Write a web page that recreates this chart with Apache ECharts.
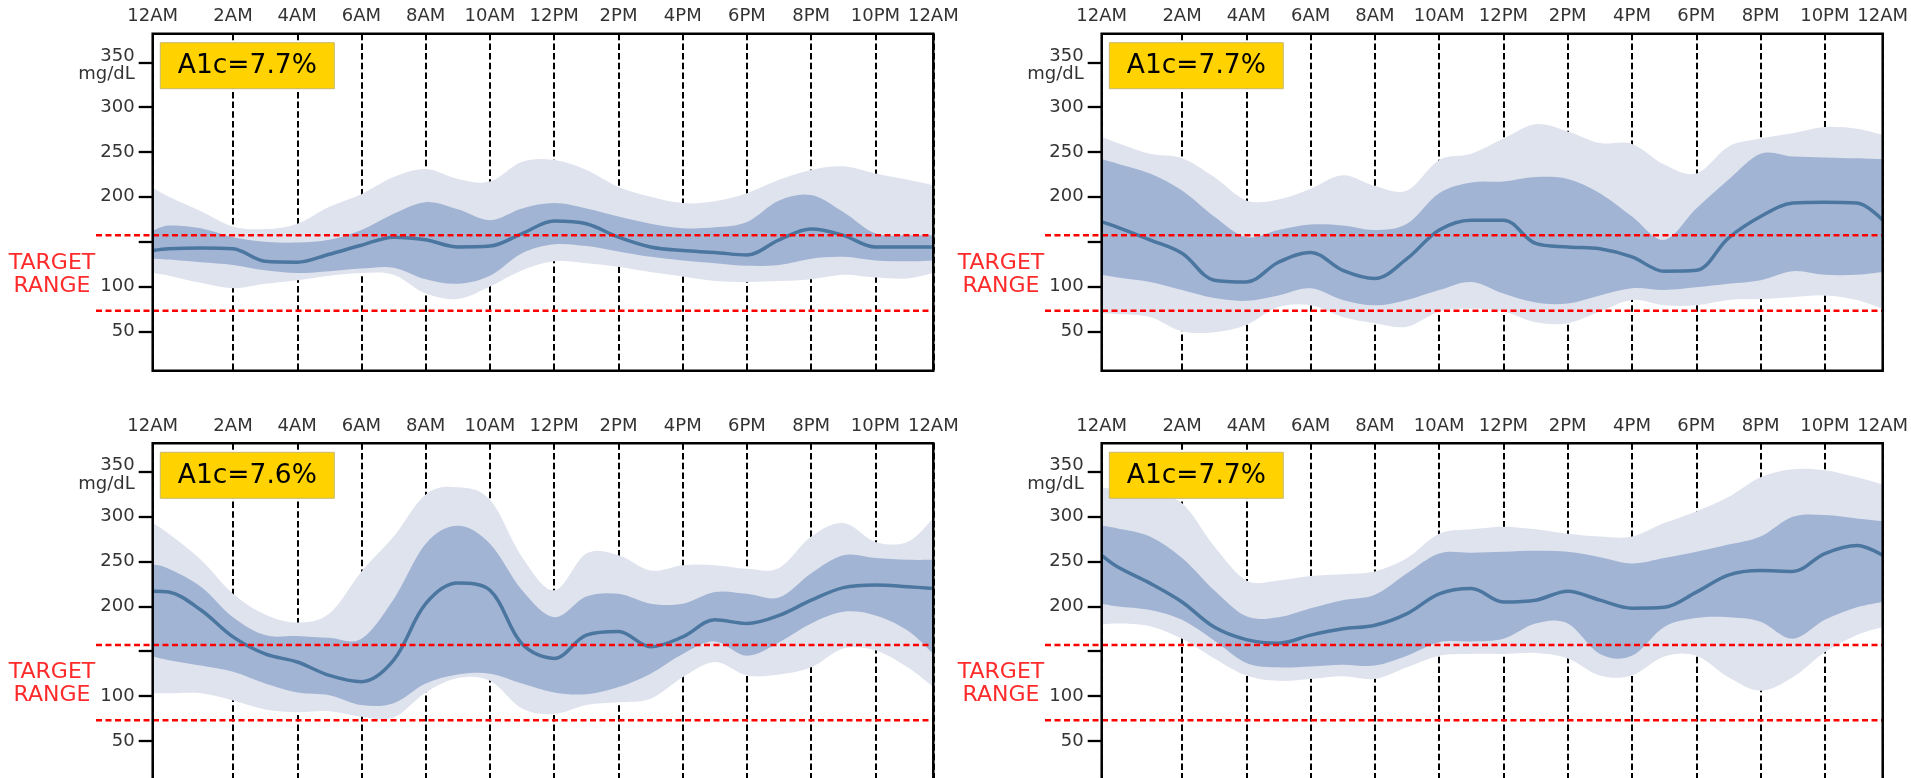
<!DOCTYPE html>
<html>
<head>
<meta charset="utf-8">
<script src="https://cdn.jsdelivr.net/npm/echarts@6/dist/echarts.min.js"></script>
<style>
html,body{margin:0;padding:0;background:#fff;}
#c{width:1911px;height:778px;}
</style>
</head>
<body>
<div id="c"></div>
<script>
// ---------- data ----------
const hours = [-0.5, 0, 1, 2, 3, 4, 5, 6, 7, 8, 9, 10, 11, 12, 13, 14, 15, 16, 17, 18, 19, 20, 21, 22, 23, 23.8];
const xTickValues = [-0.5, 2, 4, 6, 8, 10, 12, 14, 16, 18, 20, 22, 23.8];
const xTickLabels = ['12AM', '2AM', '4AM', '6AM', '8AM', '10AM', '12PM', '2PM', '4PM', '6PM', '8PM', '10PM', '12AM'];
const yTickValues = [50, 100, 150, 200, 250, 300, 350];
const yLabelValues = [50, 100, 200, 250, 300, 350];
const yRange = [6, 382];
const targetRange = [73, 157];
const a1cLabels = ['A1c=7.7%', 'A1c=7.7%', 'A1c=7.6%', 'A1c=7.7%'];

// panel 1 (top-left)
const p1OuterHigh = [210,200,184,167,164,170,189,203,222,231,220,217,239,241,230,211,200,193,195,204,219,230,234,226,219,213];
const p1InnerHigh = [162,168,165,155,150,149,152,163,181,194,186,174,187,193,187,178,170,165,166,172,196,202,183,159,157,157];
const p1Median    = [140,142,143,142,128,127,136,146,155,152,144,145,159,173,170,155,144,140,138,135,152,164,157,144,144,144];
const p1InnerLow  = [131,130,127,124,118,115,117,120,121,108,103,112,137,147,145,139,133,129,126,123,124,131,133,129,128,129];
const p1OuterLow  = [115,112,104,98,103,107,112,115,113,92,86,100,118,128,126,122,116,111,106,105,106,108,113,110,109,115];

// panel 2 (top-right)
const p2OuterHigh = [267,260,248,243,222,196,197,209,224,212,207,241,248,265,281,273,260,259,236,226,256,265,271,278,276,269];
const p2InnerHigh = [242,237,226,207,178,155,163,169,168,163,170,204,216,217,222,220,204,178,152,187,219,248,245,244,243,242];
const p2Median    = [172,166,152,137,107,105,127,138,118,109,131,163,174,174,148,144,142,133,117,118,154,178,193,194,193,174];
const p2InnerLow  = [113,110,105,96,87,84,90,98,85,79,85,96,105,92,82,81,90,98,96,99,103,107,117,113,113,116];
const p2OuterLow  = [70,69,66,50,49,57,77,79,66,59,55,72,75,72,60,59,72,85,79,79,85,86,88,90,85,75];

// panel 3 (bottom-left)
const p3OuterHigh = [293,281,252,214,191,182,192,239,278,325,333,319,255,218,259,257,240,246,246,242,243,278,293,272,272,298];
const p3InnerHigh = [247,242,222,188,168,167,165,164,208,270,290,270,218,188,211,214,203,203,216,214,210,237,257,254,252,252];
const p3Median    = [217,216,196,166,147,138,123,116,140,203,226,218,158,142,168,172,155,166,185,181,190,207,221,224,222,220];
const p3InnerLow  = [144,140,134,127,114,104,101,90,92,114,124,125,114,104,102,110,125,147,161,145,160,181,194,190,173,147];
const p3OuterLow  = [103,103,103,95,85,82,83,77,76,104,120,117,86,80,90,93,97,121,138,123,124,132,153,151,132,110];

// panel 4 (bottom-right)
const p4OuterHigh = [333,330,326,315,267,229,229,234,236,239,254,281,286,289,286,281,278,278,293,306,322,344,353,352,344,336];
const p4InnerHigh = [290,287,278,254,218,189,188,198,207,213,237,259,260,261,262,261,255,248,254,261,269,278,300,302,298,295];
const p4Median    = [257,244,226,205,177,163,159,168,175,179,192,214,220,205,207,217,207,198,199,216,235,240,239,259,268,257];
const p4InnerLow  = [203,200,196,185,162,137,132,133,135,134,145,160,161,164,181,181,147,145,177,187,188,183,164,185,199,205];
const p4OuterLow  = [180,181,178,164,142,123,117,119,122,119,132,145,147,147,148,142,123,123,144,145,121,106,121,149,168,177];

const panels = [
  {oh: p1OuterHigh, ih: p1InnerHigh, md: p1Median, il: p1InnerLow, ol: p1OuterLow},
  {oh: p2OuterHigh, ih: p2InnerHigh, md: p2Median, il: p2InnerLow, ol: p2OuterLow},
  {oh: p3OuterHigh, ih: p3InnerHigh, md: p3Median, il: p3InnerLow, ol: p3OuterLow},
  {oh: p4OuterHigh, ih: p4InnerHigh, md: p4Median, il: p4InnerLow, ol: p4OuterLow}
];

// ---------- layout / style ----------
const gridPos = [[152.7, 33.7, 780.6], [1101.7, 33.7, 781], [152.7, 443.3, 780.6], [1101.7, 443.3, 781]];
const PLOT_H = 337;
const RED_EXT = 56.7;
const FONT = '"DejaVu Sans", Verdana, sans-serif';
const LIGHT = '#dfe3ee';
const DARK = '#a2b4d4';
const MEDIAN = '#4a76a0';
const RED = '#ff0000';
const TENSION = 0.17;

const chart = echarts.init(document.getElementById('c'));
const option = {
  animation: false,
  backgroundColor: '#fff',
  textStyle: {fontFamily: FONT},
  grid: [], xAxis: [], yAxis: [], series: []
};

function labelFor(v) {
  const k = xTickValues.findIndex(t => Math.abs(t - v) < 1e-6);
  return k >= 0 ? xTickLabels[k] : '';
}

// smooth curve through pixel points (Catmull-Rom -> cubic Bezier)
function curve(pts, start) {
  let d = (start ? 'M' : 'L') + pts[0][0].toFixed(2) + ',' + pts[0][1].toFixed(2);
  const n = pts.length;
  for (let i = 0; i < n - 1; i++) {
    const p0 = pts[Math.max(i - 1, 0)], p1 = pts[i], p2 = pts[i + 1], p3 = pts[Math.min(i + 2, n - 1)];
    const c1x = p1[0] + (p2[0] - p0[0]) * TENSION, c1y = p1[1] + (p2[1] - p0[1]) * TENSION;
    const c2x = p2[0] - (p3[0] - p1[0]) * TENSION, c2y = p2[1] - (p3[1] - p1[1]) * TENSION;
    d += 'C' + c1x.toFixed(2) + ',' + c1y.toFixed(2) + ',' + c2x.toFixed(2) + ',' + c2y.toFixed(2) + ',' +
      p2[0].toFixed(2) + ',' + p2[1].toFixed(2);
  }
  return d;
}

function bandSeries(g, upper, lower, color, name) {
  return {
    type: 'custom', name: name, xAxisIndex: g, yAxisIndex: g, silent: true, z: 2, clip: true,
    data: [[hours[0], lower[0]]],
    renderItem: function (params, api) {
      const up = hours.map((h, k) => api.coord([h, upper[k]]));
      const lo = hours.map((h, k) => api.coord([h, lower[k]])).reverse();
      return {type: 'path', shape: {pathData: curve(up, true) + curve(lo, false) + 'Z'}, style: {fill: color, stroke: null}};
    }
  };
}

panels.forEach((p, i) => {
  const [L, T, W] = gridPos[i];
  const g = 2 * i, gr = 2 * i + 1;
  option.grid.push({left: L, top: T, width: W, height: PLOT_H, show: true, borderColor: '#000', borderWidth: 2.5,
    backgroundColor: 'transparent', z: 10, outerBoundsMode: 'none', containLabel: false});
  option.grid.push({left: L - RED_EXT, top: T, width: W + RED_EXT, height: PLOT_H, show: false,
    outerBoundsMode: 'none', containLabel: false});

  option.xAxis.push({
    gridIndex: g, type: 'value', min: hours[0], max: hours[hours.length - 1], position: 'top',
    axisLine: {show: false, onZero: false},
    axisTick: {show: false, customValues: xTickValues},
    axisLabel: {customValues: xTickValues, formatter: labelFor, fontSize: 18, color: '#333', margin: 8, fontFamily: FONT},
    splitLine: {show: true, lineStyle: {color: '#000', width: 2, type: [6.5, 3.2]}}
  });
  option.xAxis.push({gridIndex: gr, type: 'value', min: 0, max: 1, show: false});

  option.yAxis.push({
    gridIndex: g, type: 'value', min: yRange[0], max: yRange[1], position: 'left',
    axisLine: {show: false, onZero: false},
    axisTick: {show: true, inside: false, length: 14, customValues: yTickValues, lineStyle: {color: '#000', width: 2.3}},
    axisLabel: {customValues: yLabelValues, fontSize: 18, color: '#333', margin: 18, fontFamily: FONT,
      formatter: v => (v === 350 ? '{a|350}\n{b|mg/dL}' : String(v)),
      rich: {
        a: {fontSize: 18, color: '#333', fontFamily: FONT, lineHeight: 24.4, align: 'right'},
        b: {fontSize: 18, color: '#333', fontFamily: FONT, lineHeight: 12.6, align: 'right'}
      }},
    splitLine: {show: false}
  });
  option.yAxis.push({gridIndex: gr, type: 'value', min: yRange[0], max: yRange[1], show: false});

  option.series.push(bandSeries(g, p.oh, p.ol, LIGHT, 'outer-' + i));
  option.series.push(bandSeries(g, p.ih, p.il, DARK, 'inner-' + i));
  option.series.push({type: 'line', name: 'median-' + i, xAxisIndex: g, yAxisIndex: g, symbol: 'none', smooth: 0.35, silent: true, z: 3,
    data: hours.map((h, k) => [h, p.md[k]]), lineStyle: {color: MEDIAN, width: 3.5}});
  targetRange.forEach((v, j) => {
    option.series.push({type: 'line', name: 'target-' + i + '-' + j, xAxisIndex: gr, yAxisIndex: gr, symbol: 'none', silent: true, z: 4,
      data: [[0, v], [1, v]], lineStyle: {color: RED, width: 2.5, type: [6, 3.5]}});
  });
});

chart.setOption(option);

// annotations positioned through the chart's own scales
const elements = [];
panels.forEach((p, i) => {
  const g = 2 * i;
  const tl = chart.convertToPixel({xAxisIndex: g, yAxisIndex: g}, [hours[0], yRange[1]]);
  const mid = chart.convertToPixel({xAxisIndex: g, yAxisIndex: g}, [hours[0], (targetRange[0] + targetRange[1]) / 2]);
  elements.push({type: 'rect', x: tl[0] + 7.6, y: tl[1] + 9, shape: {x: 0, y: 0, width: 174, height: 46},
    style: {fill: '#ffd200', stroke: '#c9b870', lineWidth: 1}, z: 100, silent: true});
  elements.push({type: 'text', x: tl[0] + 7.6 + 87, y: tl[1] + 9 + 23.5,
    style: {text: a1cLabels[i], font: '26.5px ' + FONT, fill: '#000', align: 'center', verticalAlign: 'middle'}, z: 101, silent: true});
  elements.push({type: 'text', x: tl[0] - 100.7, y: mid[1] + 1.5,
    style: {text: 'TARGET\nRANGE', font: '22px ' + FONT, fill: '#ff2a2a', align: 'center', verticalAlign: 'middle', lineHeight: 23},
    z: 101, silent: true});
});
chart.setOption({graphic: {elements: elements}});
</script>
</body>
</html>
